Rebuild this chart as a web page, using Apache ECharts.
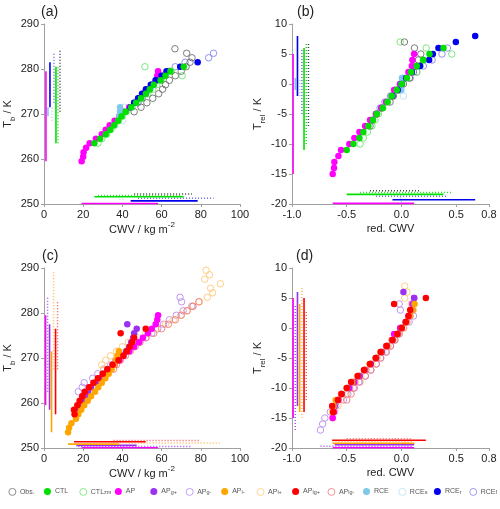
<!DOCTYPE html>
<html><head><meta charset="utf-8">
<script src="https://cdn.jsdelivr.net/npm/echarts@6/dist/echarts.min.js"></script>
<style>html,body{margin:0;padding:0;background:#fff}#c{width:500px;height:509px}</style>
</head><body><div id="c"></div>
<script>
// ---------- DATA ----------
// Panel (a): [CWV kg m-2, Tb K]
const a_Obs = [[46,270.5],[49.5,271.5],[52.5,272.5],[55.5,273.5],[58.5,274.5],[60.5,275.5],[62,276.5],[64,277.5],[67,278.5],[70,279.5],[72.5,280.5],[74.5,281.5],[75.5,282.5],[72.8,283.5],[66.8,284.5]];
const a_CTL = [[25.7,263.5],[28.6,264.5],[31.5,265.5],[33.7,266.5],[35.7,267.5],[37.8,268.5],[39.6,269.5],[41.7,270.5],[44.5,271.5],[47,272.5],[49.5,273.5],[52,274.5],[54,275.5],[56,276.5],[59.5,277.5],[62,278.5],[64.5,279.5],[71.3,280.5]];
const a_CTLzm = [[27.5,263.5],[29.5,264.5],[32,265.5],[34,266.5],[36,267.5],[38,268.5],[40,269.5],[42,270.5],[45,271.5],[47.5,272.5],[50,273.5],[53,274.5],[55.5,275.5],[57.5,276.5],[60,277.5],[70.5,278.5],[65,279.5],[51.5,280.5]];
const a_AP = [[19.2,259.5],[20,260.5],[20.2,261.5],[21.5,262.5],[23.3,263.5],[26.5,264.5],[29.5,265.5],[31.5,266.5],[33.5,267.5],[36,268.5],[38.5,269.5],[40.5,270.5],[43.5,271.5],[46,272.5],[48.5,273.5],[50.5,274.5],[53,275.5],[55,276.5],[57,277.5],[57.8,278.5],[58.2,279.5]];
const a_RCE = [[38.5,269.5],[38.8,270.5],[38.8,271.5]];
const a_RCEs = [[40,268.5],[38.5,269.5],[39.5,270.5],[41,271.5]];
const a_RCEr = [[44.2,271.5],[46,272.5],[48,273.5],[50,274.5],[52,275.5],[54.5,276.5],[57,277.5],[60,278.5],[62.5,279.5],[69.5,280.5],[78.4,281.5]];
const a_RCEf = [[48,272.5],[50,273.5],[52,274.5],[54,275.5],[56,276.5],[58.5,277.5],[61,278.5],[64,279.5],[67,280.5],[72,281.5],[84,282.5],[86.5,283.5]];

// Panel (b): [red. CWV, Trel K]
const b_Obs = [[-0.287,-7],[-0.262,-6],[-0.226,-5],[-0.18,-4],[-0.104,-3],[-0.073,-2],[-0.027,-1],[0.018,0],[0.073,1],[0.11,2],[0.14,3],[0.155,4],[0.177,5],[0.119,6],[0.027,7]];
const b_CTL = [[-0.5,-11],[-0.439,-10],[-0.384,-9],[-0.348,-8],[-0.302,-7],[-0.262,-6],[-0.226,-5],[-0.171,-4],[-0.128,-3],[-0.088,-2],[-0.043,-1],[0.003,0],[0.049,1],[0.088,2],[0.14,3],[0.2,4],[0.256,5],[0.384,6]];
const b_CTLzm = [[-0.378,-10],[-0.348,-9],[-0.311,-8],[-0.27,-7],[-0.24,-6],[-0.21,-5],[-0.17,-4],[-0.128,-3],[-0.088,-2],[-0.043,-1],[0.003,0],[0.073,1],[0.14,2],[0.17,3],[0.2,4],[0.46,5],[0.226,6],[-0.012,7]];
const b_AP = [[-0.628,-15],[-0.616,-14],[-0.613,-13],[-0.576,-12],[-0.552,-11],[-0.476,-10],[-0.43,-9],[-0.384,-8],[-0.332,-7],[-0.287,-6],[-0.232,-5],[-0.185,-4],[-0.14,-3],[-0.088,-2],[-0.067,-1],[-0.012,0],[0.043,1],[0.064,2],[0.095,3],[0.1,4],[0.116,5]];
const b_RCE = [[-0.005,-1],[0,0],[0.005,1]];
const b_RCEs = [[0.018,-2],[0,-1],[-0.01,0],[0.01,1]];
const b_RCEr = [[-0.082,-2],[-0.034,-1],[0.003,0],[0.043,1],[0.095,2],[0.17,3],[0.253,4],[0.287,5],[0.338,6],[0.497,7],[0.674,8]];
const b_RCEf = [[-0.232,-5],[-0.195,-4],[-0.15,-3],[-0.1,-2],[-0.055,-1],[-0.01,0],[0.08,1],[0.14,2],[0.2,3],[0.28,4],[0.37,5],[0.42,6]];

// Panel (c): [CWV kg m-2, Tb K]
const c_APgp = [[16.5,258.5],[18,259.5],[19.5,260.5],[21,261.5],[22.5,262.5],[24,263.5],[26,264.5],[28,265.5],[30,266.5],[32.5,267.5],[35,268.5],[37.5,269.5],[40,270.5],[42,271.5],[43.5,272.5],[44.5,273.5],[45.5,274.5],[46,275.5],[47.3,276.5],[42.5,277.5]];
const c_APgm = [[17.5,262.5],[19.5,263.5],[20.5,264.5],[24.8,265.5],[27.5,266.5],[30.5,267.5],[34,268.5],[36.5,269.5],[39,270.5],[42,271.5],[45,272.5],[48.5,273.5],[52,274.5],[55,275.5],[58,276.5],[61,277.5],[64,278.5],[67.5,279.5],[71,280.5],[75.4,281.5],[70.2,282.5],[69.4,283.5]];
const c_APlm = [[12.3,253.5],[12.8,254.5],[14,255.5],[16.3,256.5],[17.5,257.5],[19,258.5],[20.5,259.5],[22.3,260.5],[24,261.5],[26,262.5],[27.7,263.5],[29.5,264.5],[31.3,265.5],[33,266.5],[34.5,267.5],[35.8,268.5],[36.8,269.5],[37.5,270.5],[38.2,271.5]];
const c_APlp = [[30.3,267.5],[29.4,268.5],[31.5,269.5],[34,270.5],[37,271.5],[40,272.5],[43,273.5],[48,274.5],[52,275.5],[57,276.5],[62,277.5],[66,278.5],[70,279.5],[73,280.5],[76,281.5],[79.3,282.5],[83.3,283.5],[86,284.5],[85,285.5],[90,286.5],[82,287.5],[84.4,288.5],[82.7,289.5]];
const c_APlgp = [[15.6,257.5],[15.3,258.5],[17,259.5],[18.2,260.5],[19.5,261.5],[20.8,262.5],[23,263.5],[25.2,264.5],[27.5,265.5],[30,266.5],[32.3,267.5],[35,268.5],[38,269.5],[40.5,270.5],[42.3,271.5],[43.8,272.5],[45,273.5],[46,274.5],[39.1,275.5],[51.9,276.5]];
const c_APlgm = [[35.5,267.5],[37,268.5],[39,269.5],[41.5,270.5],[44,271.5],[46.5,272.5],[49,273.5],[52,274.5],[56,275.5],[60,276.5],[63.5,277.5],[67,278.5],[70,279.5],[73,280.5],[76,281.5],[79,282.5]];

// Panel (d): [red. CWV, Trel K]
const d_APgp = [[-0.61,-13],[-0.59,-12],[-0.545,-11],[-0.49,-10],[-0.44,-9],[-0.385,-8],[-0.335,-7],[-0.28,-6],[-0.23,-5],[-0.18,-4],[-0.13,-3],[-0.08,-2],[-0.035,-1],[0,0],[0.04,1],[0.07,2],[0.1,3],[0.11,4],[0.116,5],[0.018,6]];
const d_APgm = [[-0.74,-17],[-0.72,-16],[-0.7,-15],[-0.65,-14],[-0.6,-13],[-0.53,-12],[-0.49,-11],[-0.44,-10],[-0.39,-9],[-0.33,-8],[-0.28,-7],[-0.23,-6],[-0.19,-5],[-0.14,-4],[-0.1,-3],[-0.06,-2],[-0.03,-1],[0,0],[0.07,1],[0.11,2],[-0.01,3],[-0.02,4]];
const d_APlm = [[-0.63,-14],[-0.62,-13],[-0.6,-12],[-0.55,-11],[-0.5,-10],[-0.45,-9],[-0.4,-8],[-0.34,-7],[-0.29,-6],[-0.235,-5],[-0.19,-4],[-0.135,-3],[-0.085,-2],[-0.035,-1],[0.005,0],[0.045,1],[0.075,2],[0.1,3],[0.12,4]];
const d_APlp = [[-0.63,-15],[-0.61,-14],[-0.58,-13],[-0.55,-12],[-0.5,-11],[-0.47,-10],[-0.42,-9],[-0.37,-8],[-0.32,-7],[-0.27,-6],[-0.22,-5],[-0.17,-4],[-0.12,-3],[-0.075,-2],[-0.035,-1],[0,0],[0.04,1],[0.07,2],[0.11,3],[0.09,4],[0.03,5],[0.05,6],[0.03,7]];
const d_APlgp = [[-0.624,-14],[-0.633,-13],[-0.58,-12],[-0.547,-11],[-0.5,-10],[-0.46,-9],[-0.4,-8],[-0.342,-7],[-0.287,-6],[-0.235,-5],[-0.19,-4],[-0.135,-3],[-0.083,-2],[-0.037,-1],[0.003,0],[0.04,1],[0.065,2],[0.08,3],[-0.067,4],[0.223,5]];
const d_APlgm = [[-0.5,-12],[-0.46,-11],[-0.43,-10],[-0.38,-9],[-0.33,-8],[-0.28,-7],[-0.23,-6],[-0.19,-5],[-0.14,-4],[-0.1,-3],[-0.06,-2],[-0.02,-1],[0.02,0],[0.05,1],[0.08,2],[0.095,3]];

// Axis ticks
const tickA_x = {min:0, max:100, interval:20};
const tickA_y = {min:250, max:290, interval:10};
const tickB_x = {min:-1, max:0.8, interval:0.5};
const tickB_y = {min:-20, max:10, interval:5};

// Legend order
const legendNames = ['Obs.','CTL','CTLzm','AP','APg+','APg-','APl-','APl+','APlg+','APlg-','RCE','RCEs','RCEr','RCEf'];
const legendLabels = {'Obs.':'Obs.','CTL':'CTL','CTLzm':'CTL{s|zm}','AP':'AP','APg+':'AP{s|g+}','APg-':'AP{s|g-}','APl-':'AP{s|l-}','APl+':'AP{s|l+}','APlg+':'AP{s|lg+}','APlg-':'AP{s|lg-}','RCE':'RCE','RCEs':'RCE{s|s}','RCEr':'RCE{s|r}','RCEf':'RCE{s|f}'};

// ---------- STYLE ----------
const FONT = 'Liberation Sans, Arial, Helvetica, sans-serif';
const STY = {
  'Obs.':{c:'#6e6e6e',f:false,lc:'#444444'},
  'CTL':{c:'#00e000',f:true},
  'CTLzm':{c:'#6fe46f',f:false,lc:'#22dd22'},
  'AP':{c:'#ff00ff',f:true},
  'APg+':{c:'#9b30f0',f:true},
  'APg-':{c:'#b98af0',f:false,lc:'#a050f0'},
  'APl-':{c:'#ffa500',f:true},
  'APl+':{c:'#ffc878',f:false,lc:'#ffb850'},
  'APlg+':{c:'#ff0000',f:true},
  'APlg-':{c:'#f07a7a',f:false,lc:'#f05a5a'},
  'RCE':{c:'#7ec8ea',f:true},
  'RCEs':{c:'#b8e2f4',f:false,lc:'#a8d8f0'},
  'RCEr':{c:'#0000ee',f:true},
  'RCEf':{c:'#8585ee',f:false,lc:'#6a6aee'}
};
const ZF = {'AP':4,'RCE':5,'RCEr':6,'CTL':7,'APg+':5,'APl-':6,'APlg+':7};

const panels = [
  {g:0, items:[['AP',a_AP],['RCE',a_RCE],['RCEr',a_RCEr],['RCEs',a_RCEs],['RCEf',a_RCEf],['CTL',a_CTL],['CTLzm',a_CTLzm],['Obs.',a_Obs]], vx0:1, vdx:1.02, hy0:250.1, hdy:0.3},
  {g:1, items:[['AP',b_AP],['RCE',b_RCE],['RCEr',b_RCEr],['RCEs',b_RCEs],['RCEf',b_RCEf],['CTL',b_CTL],['CTLzm',b_CTLzm],['Obs.',b_Obs]], vx0:-0.99, vdx:0.02, hy0:-19.9, hdy:0.3},
  {g:2, items:[['AP',a_AP],['APg-',c_APgm],['APg+',c_APgp],['APl-',c_APlm],['APl+',c_APlp],['APlg+',c_APlgp],['APlg-',c_APlgm]], vx0:0.8, vdx:1.02, hy0:250.05, hdy:0.27},
  {g:3, items:[['AP',b_AP],['APg-',d_APgm],['APg+',d_APgp],['APl-',d_APlm],['APl+',d_APlp],['APlg+',d_APlgp],['APlg-',d_APlgm]], vx0:-0.99, vdx:0.02, hy0:-19.95, hdy:0.25}
];

const scatterSeries = [], lineSeries = [];
panels.forEach(p => {
  p.items.forEach(([name, data], i) => {
    const s = STY[name];
    scatterSeries.push({
      type:'scatter', name, xAxisIndex:p.g, yAxisIndex:p.g, data,
      symbol:'circle', symbolSize: 6.5, animation:false, silent:true,
      z: s.f ? ZF[name] : 3,
      itemStyle: s.f ? {color:s.c, opacity:1} : {color:'rgba(255,255,255,0)', borderColor:s.c, borderWidth:0.9, opacity:1}
    });
    const xs = data.map(d=>d[0]), ys = data.map(d=>d[1]);
    const vx = p.vx0 + p.vdx*i, hy = p.hy0 + p.hdy*i;
    const ls = {color: s.f ? s.c : s.lc, width: s.f ? 1.6 : 1.5, type: s.f ? 'solid' : [1,2]};
    lineSeries.push({type:'line', name, xAxisIndex:p.g, yAxisIndex:p.g, symbol:'none', animation:false, silent:true, z:2,
      data:[[vx, Math.min(...ys)],[vx, Math.max(...ys)]], lineStyle:ls});
    lineSeries.push({type:'line', name, xAxisIndex:p.g, yAxisIndex:p.g, symbol:'none', animation:false, silent:true, z:2,
      data:[[Math.min(...xs), hy],[Math.max(...xs), hy]], lineStyle:ls});
  });
});

const axisBase = {
  type:'value',
  axisLine:{show:true, onZero:false, lineStyle:{color:'#a0a0a0', width:1}},
  axisTick:{show:true, length:3, lineStyle:{color:'#a0a0a0'}},
  axisLabel:{color:'#222', fontSize:11, fontFamily:FONT, margin:5},
  splitLine:{show:false}
};
const nameRich = {
  m:{fontSize:11, lineHeight:18, fontFamily:FONT, color:'#222'},
  s:{fontSize:8, lineHeight:8, verticalAlign:'bottom', fontFamily:FONT, color:'#222'},
  p:{fontSize:8, lineHeight:8, verticalAlign:'top', fontFamily:FONT, color:'#222'}
};
function xAx(g, t, name, fmt){
  return Object.assign({}, axisBase, {gridIndex:g, min:t.min, max:t.max, interval:t.interval,
    name, nameLocation:'middle', nameGap:16, nameTextStyle:{fontFamily:FONT, fontSize:11, color:'#222', rich:nameRich},
    axisLabel:Object.assign({}, axisBase.axisLabel, fmt?{formatter:fmt}:{})});
}
function yAx(g, t, name){
  return Object.assign({}, axisBase, {gridIndex:g, min:t.min, max:t.max, interval:t.interval,
    name, nameLocation:'middle', nameGap:20, nameTextStyle:{fontFamily:FONT, fontSize:11, color:'#222', rich:nameRich}});
}
const f1 = v => v.toFixed(1);

const legends = legendNames.map((n, i) => ({
  data:[{name:n, icon:'circle'}], left: 8.5 + 35.45*i, top: 488, padding:0,
  itemWidth:7, itemHeight:7, itemGap:0, selectedMode:false,
  formatter: name => legendLabels[name],
  itemStyle:{borderWidth:0.8},
  textStyle:{fontSize:7, color:'#555', fontFamily:FONT, padding:[0,0,0,-1],
    rich:{s:{fontSize:5.5, lineHeight:5.5, verticalAlign:'bottom', color:'#555', fontFamily:FONT}}}
}));

const titleStyle = {fontSize:14, fontWeight:'normal', color:'#222', fontFamily:FONT};
const option = {
  animation:false,
  backgroundColor:'#fff',
  title:[
    {text:'(a)', left:41, top:5, padding:0, textStyle:titleStyle},
    {text:'(b)', left:297, top:5, padding:0, textStyle:titleStyle},
    {text:'(c)', left:42, top:249, padding:0, textStyle:titleStyle},
    {text:'(d)', left:296, top:249, padding:0, textStyle:titleStyle}
  ],
  legend: legends,
  grid:[
    {left:44, top:24, width:196, height:180},
    {left:292, top:24, width:197, height:180},
    {left:44, top:268, width:196, height:180},
    {left:292, top:268, width:197, height:180}
  ],
  xAxis:[
    xAx(0, tickA_x, '{m|CWV / kg m}{p|-2}'),
    xAx(1, tickB_x, '{m|red. CWV}', f1),
    xAx(2, tickA_x, '{m|CWV / kg m}{p|-2}'),
    xAx(3, tickB_x, '{m|red. CWV}', f1)
  ],
  yAxis:[
    yAx(0, tickA_y, '{m|T}{s|b}{m| / K}'),
    yAx(1, tickB_y, '{m|T}{s|rel}{m| / K}'),
    yAx(2, tickA_y, '{m|T}{s|b}{m| / K}'),
    yAx(3, tickB_y, '{m|T}{s|rel}{m| / K}')
  ],
  series: scatterSeries.concat(lineSeries)
};
const chart = echarts.init(document.getElementById('c'), null, {renderer:'canvas'});
chart.setOption(option);
</script></body></html>
